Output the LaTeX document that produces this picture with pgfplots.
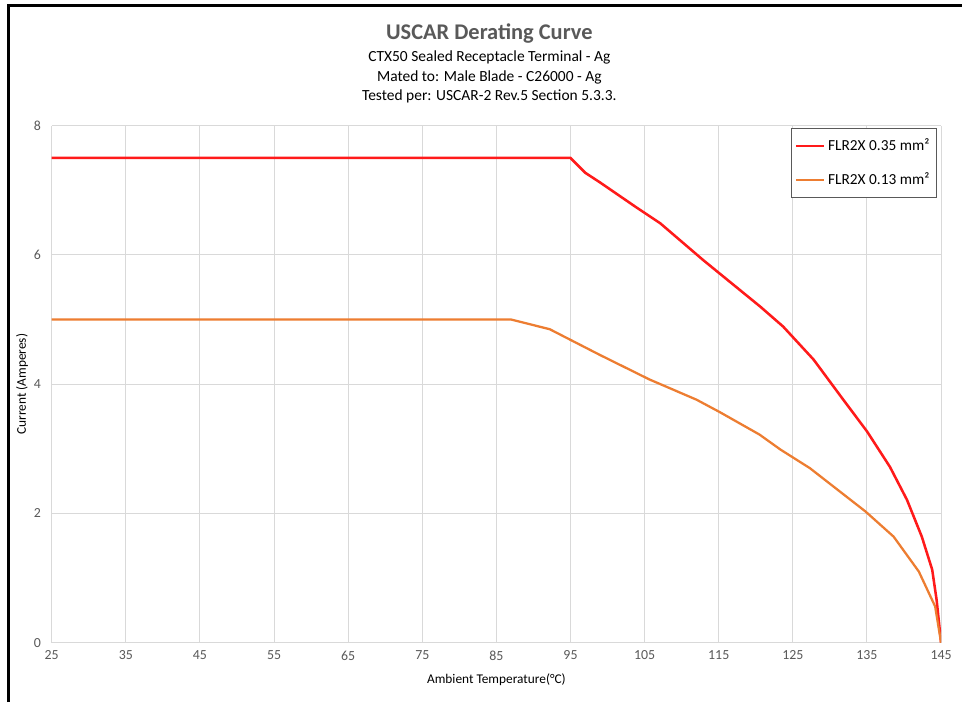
\documentclass[border=0pt]{standalone}
\usepackage{pgfplots}
\pgfplotsset{compat=1.18}
\usepackage{fontspec}
\setmainfont{Carlito}
\definecolor{redline}{HTML}{FF1A1A}
\definecolor{orangeline}{HTML}{ED7D31}
\definecolor{gridc}{HTML}{D9D9D9}
\definecolor{txtgray}{HTML}{595959}
\begin{document}
\begin{tikzpicture}
\path[use as bounding box] (0pt,0pt) rectangle (721.5pt,526.5pt);
\fill[white] (0pt,0pt) rectangle (721.5pt,526.5pt);
\draw[black,line width=1.6pt] (6.4pt,0pt) -- (6.4pt,522.4pt) -- (721.5pt,522.4pt);
\node[anchor=base,text=txtgray,font=\bfseries\fontsize{16.8}{18}\selectfont] at (367pt,496.5pt) {USCAR Derating Curve};
\node[anchor=base,font=\fontsize{11.6}{13}\selectfont] at (367pt,480pt) {CTX50 Sealed Receptacle Terminal - Ag};
\node[anchor=base,font=\fontsize{11.6}{13}\selectfont] at (367pt,465.5pt) {Mated to: Male Blade - C26000 - Ag};
\node[anchor=base,font=\fontsize{11.6}{13}\selectfont] at (367pt,451pt) {Tested per: USCAR-2 Rev.5 Section 5.3.3.};
\begin{axis}[
  at={(38.8pt,44.5pt)}, anchor=south west,
  scale only axis, width=667pt, height=387.75pt,
  xmin=25, xmax=145, ymin=0, ymax=8,
  xtick={25,35,...,145}, ytick={0,2,...,8},
  grid=major,
  major grid style={draw=gridc,line width=0.75pt},
  axis line style={draw=none},
  tick style={draw=none},
  /pgf/number format/assume math mode=true,
  ticklabel style={font=\fontsize{10.4}{11}\selectfont,text=txtgray},
  yticklabel style={xshift=-4.5pt},
  xticklabel style={yshift=-2.5pt},
  xlabel={Ambient Temperature(°C)},
  ylabel={Current (Amperes)},
  label style={font=\fontsize{9.5}{10}\selectfont,text=txtgray},
  every axis x label/.style={at={(axis description cs:0.5,-0.0721)},anchor=center},
  every axis y label/.style={at={(axis description cs:-0.0334,0.5)},anchor=center,rotate=90},
  legend style={at={(axis description cs:0.995,0.9956)},anchor=north east,
    draw=black!65,line width=0.75pt,font=\fontsize{11.5}{13}\selectfont,
    row sep=11pt,inner xsep=3pt,inner ysep=6pt,
    cells={anchor=west}},
  legend image code/.code={\draw[#1,line width=1.6pt] (0pt,0pt) -- (21pt,0pt);},
]
\addplot[redline,line width=1.9pt] coordinates {
(25,7.5)(95,7.5)(97,7.27)(99,7.12)(103.7,6.75)(107.1,6.49)(112.9,5.92)(120.6,5.20)(123.7,4.89)(127.8,4.38)(131.8,3.76)(135.0,3.27)(138.1,2.72)(140.4,2.21)(142.4,1.64)(143.8,1.13)(144.4,0.66)(145,0)};
\addlegendentry{FLR2X 0.35 mm²}
\addplot[orangeline,line width=1.7pt] coordinates {
(25,5)(87,5)(92.2,4.85)(99,4.45)(105.7,4.07)(112,3.76)(115.1,3.57)(120.5,3.22)(123.3,2.99)(127.3,2.70)(134.8,2.03)(138.6,1.64)(142.0,1.10)(144.2,0.56)(145,0)};
\addlegendentry{FLR2X 0.13 mm²}
\end{axis}
\end{tikzpicture}
\end{document}
